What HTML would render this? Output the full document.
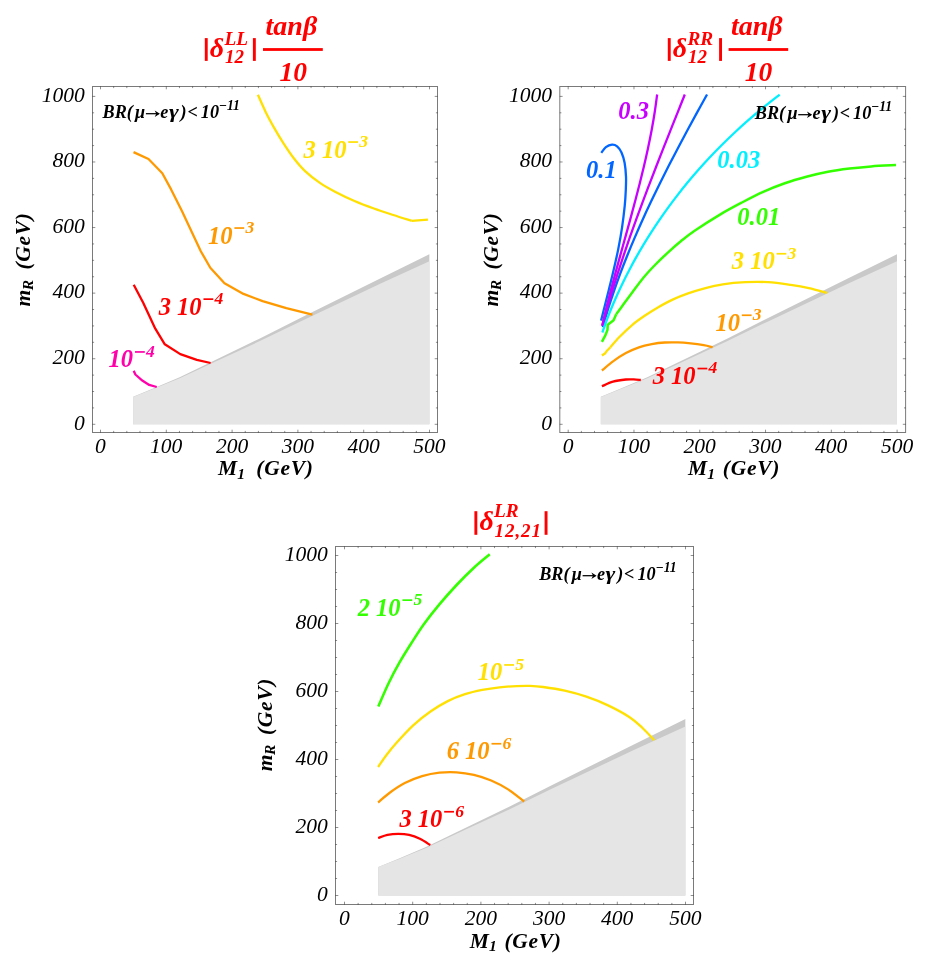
<!DOCTYPE html>
<html><head><meta charset="utf-8"><title>contours</title>
<style>html,body{margin:0;padding:0;background:#fff;}svg{display:block;will-change:transform;}text{font-family:'Liberation Serif', serif;}</style>
</head><body>
<svg width="926" height="962" viewBox="0 0 926 962">
<rect width="926" height="962" fill="#fff"/>
<polygon points="133.14,396.72 153.14,388.62 179.66,377.31 218.94,358.23 259.87,338.42 299.94,318.13 380.15,278.45 429.37,254.15 429.37,424.3 133.14,424.3" fill="#c9c9c9"/>
<polygon points="133.14,396.92 153.14,389.02 179.66,378.33 218.94,360.03 259.87,341.11 299.94,321.63 380.15,283.73 429.37,261.24 429.37,424.3 133.14,424.3" fill="#e5e5e5"/>
<path d="M257.9 94.7 C259.23 97.65 263.12 106.75 265.9 112.4 C268.68 118.05 271.72 123.53 274.6 128.6 C277.48 133.67 279.97 137.82 283.2 142.8 C286.43 147.78 290.4 153.83 294 158.5 C297.6 163.17 300.48 166.73 304.8 170.8 C309.12 174.87 314.87 179.42 319.9 182.9 C324.93 186.38 329.23 188.68 335 191.7 C340.77 194.72 348.02 198.2 354.5 201 C360.98 203.8 367.43 206.17 373.9 208.5 C380.37 210.83 387 212.95 393.3 215 C399.6 217.05 408.63 219.83 411.7 220.8" fill="none" stroke="#ffe000" stroke-width="2.3" stroke-linecap="butt" stroke-linejoin="round" />
<path d="M411.7 220.8 L427.9 219.7" fill="none" stroke="#ffe000" stroke-width="2.3" stroke-linecap="butt" stroke-linejoin="round" />
<path d="M133.5 152.1 L148.5 159 L162.3 173.2 L171.1 189.4 L181.8 210.8 L191.3 231 L200.8 251.2 L210.3 267.8 L224.5 283.2 L243.5 293.9 L262.6 301.1 L286.3 308.2 L312.4 314.6" fill="none" stroke="#ff9900" stroke-width="2.3" stroke-linecap="butt" stroke-linejoin="round" />
<path d="M133.7 284.7 L143.2 302.8 L155.3 328.7 L164.8 344.3 L180.3 354.1 L196.8 359.8 L210.6 363" fill="none" stroke="#ff0000" stroke-width="2.3" stroke-linecap="butt" stroke-linejoin="round" />
<path d="M133.7 370.7 L135.4 374.5 L142.3 380.6 L149.2 384.9 L156.7 387" fill="none" stroke="#ff00aa" stroke-width="2.3" stroke-linecap="butt" stroke-linejoin="round" />
<rect x="92.5" y="86.5" width="345" height="346" fill="none" stroke="#000" stroke-opacity="0.52" stroke-width="1"/>
<path d="M100.5 432.5 v-2.8 M100.5 86.5 v2.8 M113.66 432.5 v-1.6 M113.66 86.5 v1.6 M126.82 432.5 v-1.6 M126.82 86.5 v1.6 M139.98 432.5 v-1.6 M139.98 86.5 v1.6 M153.14 432.5 v-1.6 M153.14 86.5 v1.6 M166.3 432.5 v-2.8 M166.3 86.5 v2.8 M179.46 432.5 v-1.6 M179.46 86.5 v1.6 M192.62 432.5 v-1.6 M192.62 86.5 v1.6 M205.78 432.5 v-1.6 M205.78 86.5 v1.6 M218.94 432.5 v-1.6 M218.94 86.5 v1.6 M232.1 432.5 v-2.8 M232.1 86.5 v2.8 M245.26 432.5 v-1.6 M245.26 86.5 v1.6 M258.42 432.5 v-1.6 M258.42 86.5 v1.6 M271.58 432.5 v-1.6 M271.58 86.5 v1.6 M284.74 432.5 v-1.6 M284.74 86.5 v1.6 M297.9 432.5 v-2.8 M297.9 86.5 v2.8 M311.06 432.5 v-1.6 M311.06 86.5 v1.6 M324.22 432.5 v-1.6 M324.22 86.5 v1.6 M337.38 432.5 v-1.6 M337.38 86.5 v1.6 M350.54 432.5 v-1.6 M350.54 86.5 v1.6 M363.7 432.5 v-2.8 M363.7 86.5 v2.8 M376.86 432.5 v-1.6 M376.86 86.5 v1.6 M390.02 432.5 v-1.6 M390.02 86.5 v1.6 M403.18 432.5 v-1.6 M403.18 86.5 v1.6 M416.34 432.5 v-1.6 M416.34 86.5 v1.6 M429.5 432.5 v-2.8 M429.5 86.5 v2.8 M92.5 424.3 h2.8 M437.5 424.3 h-2.8 M92.5 407.91 h1.6 M437.5 407.91 h-1.6 M92.5 391.51 h1.6 M437.5 391.51 h-1.6 M92.5 375.12 h1.6 M437.5 375.12 h-1.6 M92.5 358.72 h2.8 M437.5 358.72 h-2.8 M92.5 342.32 h1.6 M437.5 342.32 h-1.6 M92.5 325.93 h1.6 M437.5 325.93 h-1.6 M92.5 309.53 h1.6 M437.5 309.53 h-1.6 M92.5 293.14 h2.8 M437.5 293.14 h-2.8 M92.5 276.75 h1.6 M437.5 276.75 h-1.6 M92.5 260.35 h1.6 M437.5 260.35 h-1.6 M92.5 243.95 h1.6 M437.5 243.95 h-1.6 M92.5 227.56 h2.8 M437.5 227.56 h-2.8 M92.5 211.16 h1.6 M437.5 211.16 h-1.6 M92.5 194.77 h1.6 M437.5 194.77 h-1.6 M92.5 178.38 h1.6 M437.5 178.38 h-1.6 M92.5 161.98 h2.8 M437.5 161.98 h-2.8 M92.5 145.58 h1.6 M437.5 145.58 h-1.6 M92.5 129.19 h1.6 M437.5 129.19 h-1.6 M92.5 112.8 h1.6 M437.5 112.8 h-1.6 M92.5 96.4 h2.8 M437.5 96.4 h-2.8 " stroke="#000" stroke-opacity="0.44" stroke-width="1" fill="none"/>
<text x="100.4" y="453.1" font-size="21.5" fill="#000" font-weight="normal" font-style="italic" text-anchor="middle" >0</text>
<text x="166.2" y="453.1" font-size="21.5" fill="#000" font-weight="normal" font-style="italic" text-anchor="middle" >100</text>
<text x="232" y="453.1" font-size="21.5" fill="#000" font-weight="normal" font-style="italic" text-anchor="middle" >200</text>
<text x="297.8" y="453.1" font-size="21.5" fill="#000" font-weight="normal" font-style="italic" text-anchor="middle" >300</text>
<text x="363.6" y="453.1" font-size="21.5" fill="#000" font-weight="normal" font-style="italic" text-anchor="middle" >400</text>
<text x="429.4" y="453.1" font-size="21.5" fill="#000" font-weight="normal" font-style="italic" text-anchor="middle" >500</text>
<text x="84.7" y="429.6" font-size="21.5" fill="#000" font-weight="normal" font-style="italic" text-anchor="end" >0</text>
<text x="84.7" y="364.02" font-size="21.5" fill="#000" font-weight="normal" font-style="italic" text-anchor="end" >200</text>
<text x="84.7" y="298.44" font-size="21.5" fill="#000" font-weight="normal" font-style="italic" text-anchor="end" >400</text>
<text x="84.7" y="232.86" font-size="21.5" fill="#000" font-weight="normal" font-style="italic" text-anchor="end" >600</text>
<text x="84.7" y="167.28" font-size="21.5" fill="#000" font-weight="normal" font-style="italic" text-anchor="end" >800</text>
<text x="84.7" y="101.7" font-size="21.5" fill="#000" font-weight="normal" font-style="italic" text-anchor="end" >1000</text>
<text x="102.5" y="118" font-size="18.2" fill="#000" font-weight="bold" font-style="italic">BR(</text>
<text x="135.1" y="118" font-size="18.2" fill="#000" font-weight="bold" font-style="italic">μ</text>
<path d="M145.9 113.7 H158.4" stroke="#000" stroke-width="1.25" fill="none"/>
<path d="M159.9 113.7 L154.7 110.4 L156.3 113.7 L154.7 117 Z" fill="#000"/>
<text x="160.3" y="118" font-size="18.2" fill="#000" font-weight="bold" font-style="italic">e</text>
<text transform="translate(168.9 118) scale(1.3 1)" font-size="18.2" fill="#000" font-weight="bold" font-style="italic">γ</text>
<text x="180.6" y="118" font-size="18.2" fill="#000" font-weight="bold" font-style="italic">)</text>
<text x="187.4" y="118" font-size="18.2" fill="#000" font-weight="bold" font-style="italic">&lt;</text>
<text x="200.8" y="118" font-size="18.2" fill="#000" font-weight="bold" font-style="italic">10</text>
<text x="218.7" y="110.4" font-size="13.6" fill="#000" font-weight="bold" font-style="italic">−11</text>
<text x="303.5" y="157.5" font-size="24.5" fill="#ffe000" font-weight="bold" font-style="italic" xml:space="preserve">3 10</text>
<rect x="348.27" y="141.2" width="9.8" height="1.7" fill="#ffe000"/>
<text x="359.27" y="146.8" font-size="17.6" fill="#ffe000" font-weight="bold" font-style="italic">3</text>
<text x="208" y="243.5" font-size="24.5" fill="#ff9900" font-weight="bold" font-style="italic" xml:space="preserve">10</text>
<rect x="234.4" y="227.2" width="9.8" height="1.7" fill="#ff9900"/>
<text x="245.4" y="232.8" font-size="17.6" fill="#ff9900" font-weight="bold" font-style="italic">3</text>
<text x="158.7" y="314.6" font-size="24.5" fill="#ff0000" font-weight="bold" font-style="italic" xml:space="preserve">3 10</text>
<rect x="203.47" y="298.3" width="9.8" height="1.7" fill="#ff0000"/>
<text x="214.47" y="303.9" font-size="17.6" fill="#ff0000" font-weight="bold" font-style="italic">4</text>
<text x="108.6" y="367.4" font-size="24.5" fill="#ff00aa" font-weight="bold" font-style="italic" xml:space="preserve">10</text>
<rect x="135" y="351.1" width="9.8" height="1.7" fill="#ff00aa"/>
<text x="146" y="356.7" font-size="17.6" fill="#ff00aa" font-weight="bold" font-style="italic">4</text>
<text x="218.1" y="475.3" font-size="21.5" fill="#000" font-weight="bold" font-style="italic" text-anchor="start" >M</text>
<text x="237.3" y="478.6" font-size="15.5" fill="#000" font-weight="bold" font-style="italic" text-anchor="start" >1</text>
<text x="256.3" y="475.3" font-size="21.5" fill="#000" font-weight="bold" font-style="italic" text-anchor="start" letter-spacing="0.7">(GeV)</text>
<g transform="translate(30 306.4) rotate(-90)">
<text x="0" y="0" font-size="21.5" fill="#000" font-weight="bold" font-style="italic" text-anchor="start" >m</text>
<text x="16.2" y="3.3" font-size="15.5" fill="#000" font-weight="bold" font-style="italic" text-anchor="start" >R</text>
<text x="36.9" y="0" font-size="21.5" fill="#000" font-weight="bold" font-style="italic" text-anchor="start" letter-spacing="0.7">(GeV)</text>
</g>
<rect x="204.8" y="38.1" width="2.9" height="22.8" fill="#ff0000"/>
<rect x="252.9" y="38.1" width="2.9" height="22.8" fill="#ff0000"/>
<text x="209.8" y="57.3" font-size="28" fill="#ff0000" font-weight="bold" font-style="italic" text-anchor="start" >δ</text>
<text x="224.4" y="45.4" font-size="19.3" fill="#ff0000" font-weight="bold" font-style="italic" text-anchor="start" >LL</text>
<text x="225" y="63.2" font-size="19" fill="#ff0000" font-weight="bold" font-style="italic" text-anchor="start" letter-spacing="0">12</text>
<rect x="263" y="48.1" width="59.8" height="2.8" fill="#ff0000"/>
<text x="265.6" y="34.5" font-size="28" fill="#ff0000" font-weight="bold" font-style="italic" text-anchor="start" >tanβ</text>
<text x="279.6" y="80.8" font-size="27.5" fill="#ff0000" font-weight="bold" font-style="italic" text-anchor="start" >10</text>
<polygon points="600.83,396.72 620.82,388.62 647.33,377.31 686.6,358.23 727.52,338.42 767.58,318.13 847.77,278.45 896.97,254.15 896.97,424.3 600.83,424.3" fill="#c9c9c9"/>
<polygon points="600.83,396.92 620.82,389.02 647.33,378.33 686.6,360.03 727.52,341.11 767.58,321.63 847.77,283.73 896.97,261.24 896.97,424.3 600.83,424.3" fill="#e5e5e5"/>
<path d="M601.3 152.9 C602.07 151.95 604.12 148.58 605.9 147.2 C607.68 145.82 610.13 144.75 612 144.6 C613.87 144.45 615.52 145 617.1 146.3 C618.68 147.6 620.25 149.65 621.5 152.4 C622.75 155.15 623.85 158.77 624.6 162.8 C625.35 166.83 625.8 172.07 626 176.6 C626.2 181.13 626.02 185.07 625.8 190 C625.58 194.93 625.33 199.9 624.7 206.2 C624.07 212.5 623.08 220.6 622 227.8 C620.92 235 619.63 242.2 618.2 249.4 C616.77 256.6 614.97 264.23 613.4 271 C611.83 277.77 610.28 284 608.8 290 C607.32 296 605.78 301.9 604.5 307 C603.22 312.1 601.67 318.33 601.1 320.6" fill="none" stroke="#0066ff" stroke-width="2.3" stroke-linecap="butt" stroke-linejoin="round" />
<path d="M707.04 94.5 C705.39 97.48 700.41 106.43 697.14 112.39 C693.87 118.36 690.62 124.32 687.41 130.28 C684.2 136.25 681.01 142.21 677.88 148.18 C674.74 154.14 671.64 160.11 668.6 166.07 C665.55 172.03 662.54 178 659.6 183.96 C656.65 189.93 653.76 195.89 650.93 201.85 C648.1 207.82 645.32 213.78 642.62 219.75 C639.92 225.71 637.29 231.67 634.73 237.64 C632.17 243.6 629.68 249.57 627.28 255.53 C624.88 261.49 622.55 267.46 620.32 273.42 C618.09 279.39 615.94 285.35 613.89 291.32 C611.84 297.28 609.88 303.24 608.03 309.21 C606.18 315.17 603.65 324.12 602.78 327.1" fill="none" stroke="#0066ff" stroke-width="2.3" stroke-linecap="butt" stroke-linejoin="round" />
<path d="M657.16 94.5 C656.75 97.46 655.62 106.34 654.7 112.26 C653.79 118.18 652.76 124.1 651.66 130.02 C650.56 135.94 649.36 141.86 648.1 147.78 C646.84 153.71 645.5 159.63 644.12 165.55 C642.73 171.47 641.27 177.39 639.78 183.31 C638.29 189.23 636.74 195.15 635.18 201.07 C633.61 206.99 632 212.91 630.39 218.83 C628.77 224.75 627.13 230.67 625.49 236.59 C623.85 242.51 622.2 248.43 620.57 254.35 C618.94 260.27 617.3 266.19 615.7 272.12 C614.11 278.04 612.52 283.96 610.98 289.88 C609.44 295.8 607.92 301.72 606.47 307.64 C605.01 313.56 602.96 322.44 602.25 325.4" fill="none" stroke="#c800ff" stroke-width="2.3" stroke-linecap="butt" stroke-linejoin="round" />
<path d="M684.81 94.5 C683.63 97.47 680.06 106.37 677.68 112.31 C675.31 118.24 672.93 124.18 670.57 130.12 C668.2 136.05 665.84 141.99 663.5 147.92 C661.16 153.86 658.82 159.79 656.51 165.73 C654.2 171.67 651.9 177.6 649.63 183.54 C647.36 189.47 645.1 195.41 642.89 201.35 C640.67 207.28 638.47 213.22 636.32 219.15 C634.16 225.09 632.03 231.03 629.95 236.96 C627.86 242.9 625.81 248.83 623.81 254.77 C621.81 260.71 619.85 266.64 617.94 272.58 C616.03 278.51 614.17 284.45 612.36 290.38 C610.56 296.32 608.8 302.26 607.11 308.19 C605.42 314.13 603.03 323.03 602.21 326" fill="none" stroke="#c800ff" stroke-width="2.3" stroke-linecap="butt" stroke-linejoin="round" />
<path d="M779.64 94.7 C776.99 96.79 768.87 103.04 763.75 107.22 C758.63 111.39 753.7 115.56 748.91 119.73 C744.12 123.9 739.5 128.08 735.02 132.25 C730.54 136.42 726.22 140.59 722.03 144.76 C717.84 148.94 713.79 153.11 709.86 157.28 C705.93 161.45 702.14 165.62 698.46 169.79 C694.77 173.97 691.22 178.14 687.76 182.31 C684.31 186.48 680.97 190.65 677.73 194.83 C674.49 199 671.35 203.17 668.31 207.34 C665.27 211.51 662.33 215.69 659.47 219.86 C656.62 224.03 653.86 228.2 651.18 232.37 C648.5 236.55 645.91 240.72 643.4 244.89 C640.89 249.06 638.47 253.23 636.12 257.41 C633.77 261.58 631.51 265.75 629.32 269.92 C627.13 274.09 625.02 278.26 622.99 282.44 C620.95 286.61 619 290.78 617.12 294.95 C615.24 299.12 613.43 303.3 611.71 307.47 C609.98 311.64 608.33 315.81 606.77 319.98 C605.2 324.16 603.05 330.41 602.3 332.5" fill="none" stroke="#00f0ff" stroke-width="2.3" stroke-linecap="butt" stroke-linejoin="round" />
<path d="M896 165.1 C891.87 165.32 878.93 165.82 871.2 166.4 C863.47 166.98 856.8 167.7 849.6 168.6 C842.4 169.5 835.2 170.43 828 171.8 C820.8 173.17 813.6 174.88 806.4 176.8 C799.2 178.72 792 180.78 784.8 183.3 C777.6 185.82 770.4 188.67 763.2 191.9 C756 195.13 748.8 198.92 741.6 202.7 C734.4 206.48 727.77 209.97 720 214.6 C712.23 219.23 701.43 226.13 695 230.5 C688.57 234.87 685.83 237.2 681.4 240.8 C676.97 244.4 672.72 248.15 668.4 252.1 C664.08 256.05 659.63 260.27 655.5 264.5 C651.37 268.73 647.45 272.87 643.6 277.5 C639.75 282.13 635.78 287.78 632.4 292.3 C629.02 296.82 626 300.93 623.3 304.6 C620.6 308.27 617.38 312.68 616.2 314.3" fill="none" stroke="#33ff00" stroke-width="2.5" stroke-linecap="butt" stroke-linejoin="round" />
<path d="M616.2 314.3 L613.6 320.2 L607.8 324.7 L607.5 329.9 L605.2 335.7 L601.9 341.9" fill="none" stroke="#33ff00" stroke-width="2.5" stroke-linecap="butt" stroke-linejoin="round" />
<path d="M827 292.8 C823.98 292.02 814.95 289.42 808.9 288.1 C802.85 286.78 797.52 285.88 790.7 284.9 C783.88 283.92 775.55 282.65 768 282.2 C760.45 281.75 752.95 281.83 745.4 282.2 C737.85 282.57 729.65 283.33 722.7 284.4 C715.75 285.47 709.47 287.1 703.7 288.6 C697.93 290.1 693.28 291.57 688.1 293.4 C682.92 295.23 677.57 297.3 672.6 299.6 C667.63 301.9 662.83 304.58 658.3 307.2 C653.77 309.82 649.72 312.37 645.4 315.3 C641.08 318.23 636.73 321.18 632.4 324.8 C628.07 328.42 623.07 333.27 619.4 337 C615.73 340.73 611.9 345.5 610.4 347.2" fill="none" stroke="#ffe000" stroke-width="2.3" stroke-linecap="butt" stroke-linejoin="round" />
<path d="M610.4 347.2 L606.5 351.3 L605.3 353.2 L601.9 355.5" fill="none" stroke="#ffe000" stroke-width="2.3" stroke-linecap="butt" stroke-linejoin="round" />
<path d="M601.9 370.5 C603.75 368.98 609 364.3 613 361.4 C617 358.5 621.58 355.45 625.9 353.1 C630.22 350.75 634.58 348.8 638.9 347.3 C643.22 345.8 647.48 344.9 651.8 344.1 C656.12 343.3 660.47 342.78 664.8 342.5 C669.13 342.22 673.48 342.25 677.8 342.4 C682.12 342.55 686.38 342.93 690.7 343.4 C695.02 343.87 700.03 344.57 703.7 345.2 C707.37 345.83 711.2 346.87 712.7 347.2" fill="none" stroke="#ff9900" stroke-width="2.3" stroke-linecap="butt" stroke-linejoin="round" />
<path d="M601.9 386.3 C603.75 385.53 609 382.83 613 381.7 C617 380.57 622.45 379.88 625.9 379.5 C629.35 379.12 631.22 379.32 633.7 379.4 C636.18 379.48 639.62 379.9 640.8 380" fill="none" stroke="#ff0000" stroke-width="2.3" stroke-linecap="butt" stroke-linejoin="round" />
<rect x="559.8" y="86.5" width="345.8" height="346" fill="none" stroke="#000" stroke-opacity="0.52" stroke-width="1"/>
<path d="M568.2 432.5 v-2.8 M568.2 86.5 v2.8 M581.36 432.5 v-1.6 M581.36 86.5 v1.6 M594.51 432.5 v-1.6 M594.51 86.5 v1.6 M607.67 432.5 v-1.6 M607.67 86.5 v1.6 M620.82 432.5 v-1.6 M620.82 86.5 v1.6 M633.98 432.5 v-2.8 M633.98 86.5 v2.8 M647.14 432.5 v-1.6 M647.14 86.5 v1.6 M660.29 432.5 v-1.6 M660.29 86.5 v1.6 M673.45 432.5 v-1.6 M673.45 86.5 v1.6 M686.6 432.5 v-1.6 M686.6 86.5 v1.6 M699.76 432.5 v-2.8 M699.76 86.5 v2.8 M712.92 432.5 v-1.6 M712.92 86.5 v1.6 M726.07 432.5 v-1.6 M726.07 86.5 v1.6 M739.23 432.5 v-1.6 M739.23 86.5 v1.6 M752.38 432.5 v-1.6 M752.38 86.5 v1.6 M765.54 432.5 v-2.8 M765.54 86.5 v2.8 M778.7 432.5 v-1.6 M778.7 86.5 v1.6 M791.85 432.5 v-1.6 M791.85 86.5 v1.6 M805.01 432.5 v-1.6 M805.01 86.5 v1.6 M818.16 432.5 v-1.6 M818.16 86.5 v1.6 M831.32 432.5 v-2.8 M831.32 86.5 v2.8 M844.48 432.5 v-1.6 M844.48 86.5 v1.6 M857.63 432.5 v-1.6 M857.63 86.5 v1.6 M870.79 432.5 v-1.6 M870.79 86.5 v1.6 M883.94 432.5 v-1.6 M883.94 86.5 v1.6 M897.1 432.5 v-2.8 M897.1 86.5 v2.8 M559.8 424.3 h2.8 M905.6 424.3 h-2.8 M559.8 407.91 h1.6 M905.6 407.91 h-1.6 M559.8 391.51 h1.6 M905.6 391.51 h-1.6 M559.8 375.12 h1.6 M905.6 375.12 h-1.6 M559.8 358.72 h2.8 M905.6 358.72 h-2.8 M559.8 342.32 h1.6 M905.6 342.32 h-1.6 M559.8 325.93 h1.6 M905.6 325.93 h-1.6 M559.8 309.53 h1.6 M905.6 309.53 h-1.6 M559.8 293.14 h2.8 M905.6 293.14 h-2.8 M559.8 276.75 h1.6 M905.6 276.75 h-1.6 M559.8 260.35 h1.6 M905.6 260.35 h-1.6 M559.8 243.95 h1.6 M905.6 243.95 h-1.6 M559.8 227.56 h2.8 M905.6 227.56 h-2.8 M559.8 211.16 h1.6 M905.6 211.16 h-1.6 M559.8 194.77 h1.6 M905.6 194.77 h-1.6 M559.8 178.38 h1.6 M905.6 178.38 h-1.6 M559.8 161.98 h2.8 M905.6 161.98 h-2.8 M559.8 145.58 h1.6 M905.6 145.58 h-1.6 M559.8 129.19 h1.6 M905.6 129.19 h-1.6 M559.8 112.8 h1.6 M905.6 112.8 h-1.6 M559.8 96.4 h2.8 M905.6 96.4 h-2.8 " stroke="#000" stroke-opacity="0.44" stroke-width="1" fill="none"/>
<text x="568.1" y="453.1" font-size="21.5" fill="#000" font-weight="normal" font-style="italic" text-anchor="middle" >0</text>
<text x="633.88" y="453.1" font-size="21.5" fill="#000" font-weight="normal" font-style="italic" text-anchor="middle" >100</text>
<text x="699.66" y="453.1" font-size="21.5" fill="#000" font-weight="normal" font-style="italic" text-anchor="middle" >200</text>
<text x="765.44" y="453.1" font-size="21.5" fill="#000" font-weight="normal" font-style="italic" text-anchor="middle" >300</text>
<text x="831.22" y="453.1" font-size="21.5" fill="#000" font-weight="normal" font-style="italic" text-anchor="middle" >400</text>
<text x="897" y="453.1" font-size="21.5" fill="#000" font-weight="normal" font-style="italic" text-anchor="middle" >500</text>
<text x="552" y="429.6" font-size="21.5" fill="#000" font-weight="normal" font-style="italic" text-anchor="end" >0</text>
<text x="552" y="364.02" font-size="21.5" fill="#000" font-weight="normal" font-style="italic" text-anchor="end" >200</text>
<text x="552" y="298.44" font-size="21.5" fill="#000" font-weight="normal" font-style="italic" text-anchor="end" >400</text>
<text x="552" y="232.86" font-size="21.5" fill="#000" font-weight="normal" font-style="italic" text-anchor="end" >600</text>
<text x="552" y="167.28" font-size="21.5" fill="#000" font-weight="normal" font-style="italic" text-anchor="end" >800</text>
<text x="552" y="101.7" font-size="21.5" fill="#000" font-weight="normal" font-style="italic" text-anchor="end" >1000</text>
<text x="754.8" y="119" font-size="18.2" fill="#000" font-weight="bold" font-style="italic">BR(</text>
<text x="787.4" y="119" font-size="18.2" fill="#000" font-weight="bold" font-style="italic">μ</text>
<path d="M798.2 114.7 H810.7" stroke="#000" stroke-width="1.25" fill="none"/>
<path d="M812.2 114.7 L807 111.4 L808.6 114.7 L807 118 Z" fill="#000"/>
<text x="812.6" y="119" font-size="18.2" fill="#000" font-weight="bold" font-style="italic">e</text>
<text transform="translate(821.2 119) scale(1.3 1)" font-size="18.2" fill="#000" font-weight="bold" font-style="italic">γ</text>
<text x="832.9" y="119" font-size="18.2" fill="#000" font-weight="bold" font-style="italic">)</text>
<text x="839.7" y="119" font-size="18.2" fill="#000" font-weight="bold" font-style="italic">&lt;</text>
<text x="853.1" y="119" font-size="18.2" fill="#000" font-weight="bold" font-style="italic">10</text>
<text x="871" y="111.4" font-size="13.6" fill="#000" font-weight="bold" font-style="italic">−11</text>
<text x="618.3" y="119" font-size="24.5" fill="#c800ff" font-weight="bold" font-style="italic" xml:space="preserve">0.3</text>
<text x="586.1" y="177.5" font-size="24.5" fill="#0066ff" font-weight="bold" font-style="italic" xml:space="preserve">0.1</text>
<text x="717.3" y="167.7" font-size="24.5" fill="#00f0ff" font-weight="bold" font-style="italic" xml:space="preserve">0.03</text>
<text x="737.3" y="224.6" font-size="24.5" fill="#33ff00" font-weight="bold" font-style="italic" xml:space="preserve">0.01</text>
<text x="731.8" y="269.2" font-size="24.5" fill="#ffe000" font-weight="bold" font-style="italic" xml:space="preserve">3 10</text>
<rect x="776.57" y="252.9" width="9.8" height="1.7" fill="#ffe000"/>
<text x="787.57" y="258.5" font-size="17.6" fill="#ffe000" font-weight="bold" font-style="italic">3</text>
<text x="715.4" y="330.7" font-size="24.5" fill="#ff9900" font-weight="bold" font-style="italic" xml:space="preserve">10</text>
<rect x="741.8" y="314.4" width="9.8" height="1.7" fill="#ff9900"/>
<text x="752.8" y="320" font-size="17.6" fill="#ff9900" font-weight="bold" font-style="italic">3</text>
<text x="652.7" y="384" font-size="24.5" fill="#ff0000" font-weight="bold" font-style="italic" xml:space="preserve">3 10</text>
<rect x="697.48" y="367.7" width="9.8" height="1.7" fill="#ff0000"/>
<text x="708.48" y="373.3" font-size="17.6" fill="#ff0000" font-weight="bold" font-style="italic">4</text>
<text x="688.1" y="475.3" font-size="21.5" fill="#000" font-weight="bold" font-style="italic" text-anchor="start" >M</text>
<text x="707.3" y="478.6" font-size="15.5" fill="#000" font-weight="bold" font-style="italic" text-anchor="start" >1</text>
<text x="722.8" y="475.3" font-size="21.5" fill="#000" font-weight="bold" font-style="italic" text-anchor="start" letter-spacing="0.7">(GeV)</text>
<g transform="translate(497.5 306.4) rotate(-90)">
<text x="0" y="0" font-size="21.5" fill="#000" font-weight="bold" font-style="italic" text-anchor="start" >m</text>
<text x="16.2" y="3.3" font-size="15.5" fill="#000" font-weight="bold" font-style="italic" text-anchor="start" >R</text>
<text x="36.9" y="0" font-size="21.5" fill="#000" font-weight="bold" font-style="italic" text-anchor="start" letter-spacing="0.7">(GeV)</text>
</g>
<rect x="667.8" y="38.1" width="2.9" height="22.8" fill="#ff0000"/>
<rect x="719.1" y="38.1" width="2.9" height="22.8" fill="#ff0000"/>
<text x="672.8" y="57.3" font-size="28" fill="#ff0000" font-weight="bold" font-style="italic" text-anchor="start" >δ</text>
<text x="687.4" y="45.4" font-size="19.3" fill="#ff0000" font-weight="bold" font-style="italic" text-anchor="start" >RR</text>
<text x="688" y="63.2" font-size="19" fill="#ff0000" font-weight="bold" font-style="italic" text-anchor="start" letter-spacing="0">12</text>
<rect x="728.6" y="48.1" width="59.6" height="2.8" fill="#ff0000"/>
<text x="730.9" y="34.5" font-size="28" fill="#ff0000" font-weight="bold" font-style="italic" text-anchor="start" >tanβ</text>
<text x="744.7" y="80.8" font-size="27.5" fill="#ff0000" font-weight="bold" font-style="italic" text-anchor="start" >10</text>
<polygon points="378.33,866.91 399.06,858.51 426.54,846.78 467.26,826.99 509.68,806.45 551.21,785.41 634.35,744.27 685.36,719.07 685.36,895.5 378.33,895.5" fill="#c9c9c9"/>
<polygon points="378.33,867.11 399.06,858.92 426.54,847.83 467.26,828.86 509.68,809.24 551.21,789.05 634.35,749.74 685.36,726.42 685.36,895.5 378.33,895.5" fill="#e5e5e5"/>
<path d="M489.7 554.3 C487.07 556.53 479.42 562.58 473.9 567.7 C468.38 572.82 462.35 578.88 456.6 585 C450.85 591.12 444.8 597.93 439.4 604.4 C434 610.87 428.88 617.32 424.2 623.8 C419.52 630.28 415.43 636.82 411.3 643.3 C407.17 649.78 403.18 656.05 399.4 662.7 C395.62 669.35 392.12 675.9 388.6 683.2 C385.08 690.5 380.02 702.62 378.3 706.5" fill="none" stroke="#33ff00" stroke-width="2.6" stroke-linecap="butt" stroke-linejoin="round" />
<path d="M378.1 767 C379.5 765 383.53 758.93 386.5 755 C389.47 751.07 391.45 748.35 395.9 743.4 C400.35 738.45 407.43 730.62 413.2 725.3 C418.97 719.98 424.73 715.53 430.5 711.5 C436.27 707.47 442.05 703.98 447.8 701.1 C453.55 698.22 459.25 696.07 465 694.2 C470.75 692.33 476.53 691.05 482.3 689.9 C488.07 688.75 493.83 687.93 499.6 687.3 C505.37 686.67 511.83 686.33 516.9 686.1 C521.97 685.87 525.62 685.75 530 685.9 C534.38 686.05 537.4 686.2 543.2 687 C549 687.8 557.6 689.08 564.8 690.7 C572 692.32 579.2 694.25 586.4 696.7 C593.6 699.15 600.8 701.98 608 705.4 C615.2 708.82 623.85 713.43 629.6 717.2 C635.35 720.97 638.37 724.15 642.5 728 C646.63 731.85 652.42 738.25 654.4 740.3" fill="none" stroke="#ffe000" stroke-width="2.3" stroke-linecap="butt" stroke-linejoin="round" />
<path d="M378.1 802.5 C380.03 800.88 385.25 796.03 389.7 792.8 C394.15 789.57 399.4 785.87 404.8 783.1 C410.2 780.33 416.33 777.93 422.1 776.2 C427.87 774.47 433.65 773.35 439.4 772.7 C445.15 772.05 450.85 771.93 456.6 772.3 C462.35 772.67 468.13 773.53 473.9 774.9 C479.67 776.27 485.43 778.05 491.2 780.5 C496.97 782.95 503 786.1 508.5 789.6 C514 793.1 521.58 799.52 524.2 801.5" fill="none" stroke="#ff9900" stroke-width="2.3" stroke-linecap="butt" stroke-linejoin="round" />
<path d="M378.1 838 C379.67 837.48 384.13 835.58 387.5 834.9 C390.87 834.22 394.7 833.9 398.3 833.9 C401.9 833.9 405.5 834.08 409.1 834.9 C412.7 835.72 416.37 837.1 419.9 838.8 C423.43 840.5 428.57 844.05 430.3 845.1" fill="none" stroke="#ff0000" stroke-width="2.3" stroke-linecap="butt" stroke-linejoin="round" />
<rect x="335.5" y="546.5" width="358" height="358" fill="none" stroke="#000" stroke-opacity="0.52" stroke-width="1"/>
<path d="M344.5 904.5 v-2.8 M344.5 546.5 v2.8 M358.14 904.5 v-1.6 M358.14 546.5 v1.6 M371.78 904.5 v-1.6 M371.78 546.5 v1.6 M385.42 904.5 v-1.6 M385.42 546.5 v1.6 M399.06 904.5 v-1.6 M399.06 546.5 v1.6 M412.7 904.5 v-2.8 M412.7 546.5 v2.8 M426.34 904.5 v-1.6 M426.34 546.5 v1.6 M439.98 904.5 v-1.6 M439.98 546.5 v1.6 M453.62 904.5 v-1.6 M453.62 546.5 v1.6 M467.26 904.5 v-1.6 M467.26 546.5 v1.6 M480.9 904.5 v-2.8 M480.9 546.5 v2.8 M494.54 904.5 v-1.6 M494.54 546.5 v1.6 M508.18 904.5 v-1.6 M508.18 546.5 v1.6 M521.82 904.5 v-1.6 M521.82 546.5 v1.6 M535.46 904.5 v-1.6 M535.46 546.5 v1.6 M549.1 904.5 v-2.8 M549.1 546.5 v2.8 M562.74 904.5 v-1.6 M562.74 546.5 v1.6 M576.38 904.5 v-1.6 M576.38 546.5 v1.6 M590.02 904.5 v-1.6 M590.02 546.5 v1.6 M603.66 904.5 v-1.6 M603.66 546.5 v1.6 M617.3 904.5 v-2.8 M617.3 546.5 v2.8 M630.94 904.5 v-1.6 M630.94 546.5 v1.6 M644.58 904.5 v-1.6 M644.58 546.5 v1.6 M658.22 904.5 v-1.6 M658.22 546.5 v1.6 M671.86 904.5 v-1.6 M671.86 546.5 v1.6 M685.5 904.5 v-2.8 M685.5 546.5 v2.8 M335.5 895.5 h2.8 M693.5 895.5 h-2.8 M335.5 878.5 h1.6 M693.5 878.5 h-1.6 M335.5 861.5 h1.6 M693.5 861.5 h-1.6 M335.5 844.5 h1.6 M693.5 844.5 h-1.6 M335.5 827.5 h2.8 M693.5 827.5 h-2.8 M335.5 810.5 h1.6 M693.5 810.5 h-1.6 M335.5 793.5 h1.6 M693.5 793.5 h-1.6 M335.5 776.5 h1.6 M693.5 776.5 h-1.6 M335.5 759.5 h2.8 M693.5 759.5 h-2.8 M335.5 742.5 h1.6 M693.5 742.5 h-1.6 M335.5 725.5 h1.6 M693.5 725.5 h-1.6 M335.5 708.5 h1.6 M693.5 708.5 h-1.6 M335.5 691.5 h2.8 M693.5 691.5 h-2.8 M335.5 674.5 h1.6 M693.5 674.5 h-1.6 M335.5 657.5 h1.6 M693.5 657.5 h-1.6 M335.5 640.5 h1.6 M693.5 640.5 h-1.6 M335.5 623.5 h2.8 M693.5 623.5 h-2.8 M335.5 606.5 h1.6 M693.5 606.5 h-1.6 M335.5 589.5 h1.6 M693.5 589.5 h-1.6 M335.5 572.5 h1.6 M693.5 572.5 h-1.6 M335.5 555.5 h2.8 M693.5 555.5 h-2.8 " stroke="#000" stroke-opacity="0.44" stroke-width="1" fill="none"/>
<text x="344.4" y="925.1" font-size="21.5" fill="#000" font-weight="normal" font-style="italic" text-anchor="middle" >0</text>
<text x="412.6" y="925.1" font-size="21.5" fill="#000" font-weight="normal" font-style="italic" text-anchor="middle" >100</text>
<text x="480.8" y="925.1" font-size="21.5" fill="#000" font-weight="normal" font-style="italic" text-anchor="middle" >200</text>
<text x="549" y="925.1" font-size="21.5" fill="#000" font-weight="normal" font-style="italic" text-anchor="middle" >300</text>
<text x="617.2" y="925.1" font-size="21.5" fill="#000" font-weight="normal" font-style="italic" text-anchor="middle" >400</text>
<text x="685.4" y="925.1" font-size="21.5" fill="#000" font-weight="normal" font-style="italic" text-anchor="middle" >500</text>
<text x="327.7" y="900.8" font-size="21.5" fill="#000" font-weight="normal" font-style="italic" text-anchor="end" >0</text>
<text x="327.7" y="832.8" font-size="21.5" fill="#000" font-weight="normal" font-style="italic" text-anchor="end" >200</text>
<text x="327.7" y="764.8" font-size="21.5" fill="#000" font-weight="normal" font-style="italic" text-anchor="end" >400</text>
<text x="327.7" y="696.8" font-size="21.5" fill="#000" font-weight="normal" font-style="italic" text-anchor="end" >600</text>
<text x="327.7" y="628.8" font-size="21.5" fill="#000" font-weight="normal" font-style="italic" text-anchor="end" >800</text>
<text x="327.7" y="560.8" font-size="21.5" fill="#000" font-weight="normal" font-style="italic" text-anchor="end" >1000</text>
<text x="539.2" y="580" font-size="18.2" fill="#000" font-weight="bold" font-style="italic">BR(</text>
<text x="571.8" y="580" font-size="18.2" fill="#000" font-weight="bold" font-style="italic">μ</text>
<path d="M582.6 575.7 H595.1" stroke="#000" stroke-width="1.25" fill="none"/>
<path d="M596.6 575.7 L591.4 572.4 L593 575.7 L591.4 579 Z" fill="#000"/>
<text x="597" y="580" font-size="18.2" fill="#000" font-weight="bold" font-style="italic">e</text>
<text transform="translate(605.6 580) scale(1.3 1)" font-size="18.2" fill="#000" font-weight="bold" font-style="italic">γ</text>
<text x="617.3" y="580" font-size="18.2" fill="#000" font-weight="bold" font-style="italic">)</text>
<text x="624.1" y="580" font-size="18.2" fill="#000" font-weight="bold" font-style="italic">&lt;</text>
<text x="637.5" y="580" font-size="18.2" fill="#000" font-weight="bold" font-style="italic">10</text>
<text x="655.4" y="572.4" font-size="13.6" fill="#000" font-weight="bold" font-style="italic">−11</text>
<text x="357.7" y="615.6" font-size="24.5" fill="#33ff00" font-weight="bold" font-style="italic" xml:space="preserve">2 10</text>
<rect x="402.47" y="599.3" width="9.8" height="1.7" fill="#33ff00"/>
<text x="413.47" y="604.9" font-size="17.6" fill="#33ff00" font-weight="bold" font-style="italic">5</text>
<text x="477.8" y="680.4" font-size="24.5" fill="#ffe000" font-weight="bold" font-style="italic" xml:space="preserve">10</text>
<rect x="504.2" y="664.1" width="9.8" height="1.7" fill="#ffe000"/>
<text x="515.2" y="669.7" font-size="17.6" fill="#ffe000" font-weight="bold" font-style="italic">5</text>
<text x="446.7" y="759.2" font-size="24.5" fill="#ff9900" font-weight="bold" font-style="italic" xml:space="preserve">6 10</text>
<rect x="491.47" y="742.9" width="9.8" height="1.7" fill="#ff9900"/>
<text x="502.47" y="748.5" font-size="17.6" fill="#ff9900" font-weight="bold" font-style="italic">6</text>
<text x="399.4" y="827.2" font-size="24.5" fill="#ff0000" font-weight="bold" font-style="italic" xml:space="preserve">3 10</text>
<rect x="444.17" y="810.9" width="9.8" height="1.7" fill="#ff0000"/>
<text x="455.17" y="816.5" font-size="17.6" fill="#ff0000" font-weight="bold" font-style="italic">6</text>
<text x="469.8" y="947.6" font-size="21.5" fill="#000" font-weight="bold" font-style="italic" text-anchor="start" >M</text>
<text x="489" y="950.9" font-size="15.5" fill="#000" font-weight="bold" font-style="italic" text-anchor="start" >1</text>
<text x="504.4" y="947.6" font-size="21.5" fill="#000" font-weight="bold" font-style="italic" text-anchor="start" letter-spacing="0.7">(GeV)</text>
<g transform="translate(272 771.3) rotate(-90)">
<text x="0" y="0" font-size="21.5" fill="#000" font-weight="bold" font-style="italic" text-anchor="start" >m</text>
<text x="16.2" y="3.3" font-size="15.5" fill="#000" font-weight="bold" font-style="italic" text-anchor="start" >R</text>
<text x="36.2" y="0" font-size="21.5" fill="#000" font-weight="bold" font-style="italic" text-anchor="start" letter-spacing="0.7">(GeV)</text>
</g>
<rect x="474.4" y="511.2" width="2.9" height="23.6" fill="#ff0000"/>
<rect x="544.6" y="511.2" width="2.9" height="23.6" fill="#ff0000"/>
<text x="479.4" y="530.4" font-size="28" fill="#ff0000" font-weight="bold" font-style="italic" text-anchor="start" >δ</text>
<text x="494" y="517.1" font-size="19.3" fill="#ff0000" font-weight="bold" font-style="italic" text-anchor="start" >LR</text>
<text x="494.6" y="537.1" font-size="19" fill="#ff0000" font-weight="bold" font-style="italic" text-anchor="start" letter-spacing="0.9">12,21</text>
</svg>
</body></html>
